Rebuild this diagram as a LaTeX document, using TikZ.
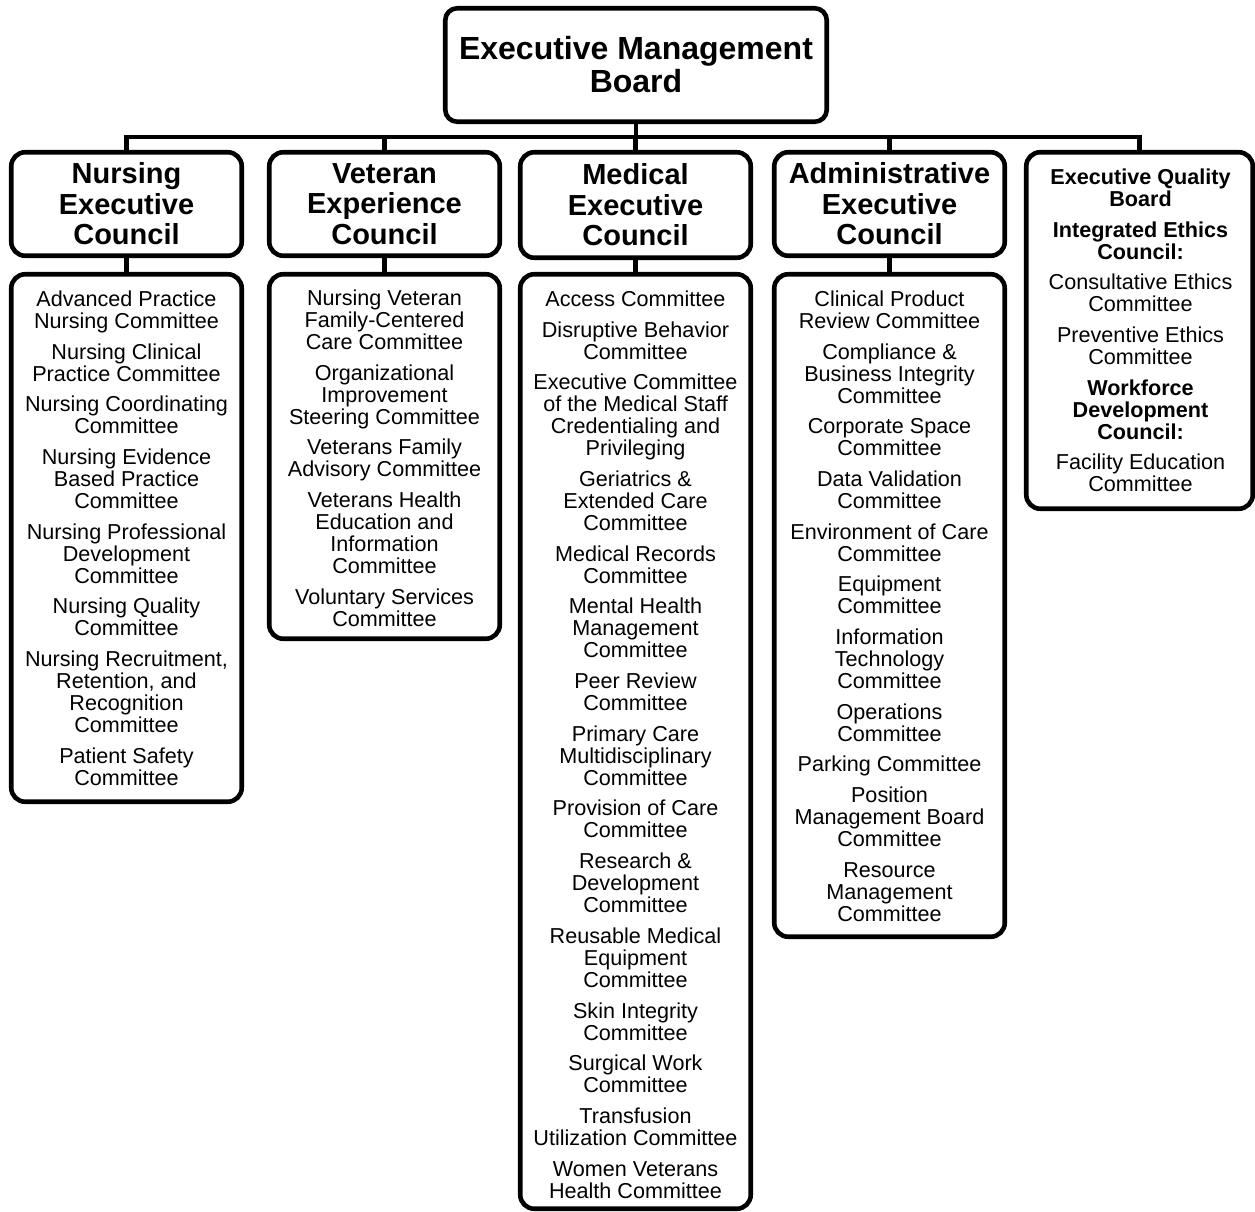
\documentclass[tikz,border=0pt]{standalone}
\usepackage{fontspec}
\setmainfont{Liberation Sans}
\begin{document}
\begin{tikzpicture}[x=1pt,y=1pt,
  box/.style={draw, line width=4.6pt, rounded corners=14pt, inner sep=0pt},
  ttl/.style={box, font=\fontsize{29}{30.5}\selectfont\bfseries, align=center},
  lst/.style={font=\fontsize{21.6}{22}\selectfont, align=center, anchor=north, inner sep=0pt},
  conn/.style={line width=4.6pt}]
\useasboundingbox (0,0) rectangle (1255,-1212);

% top
\node[box, rounded corners=12pt, minimum width=381.5pt, minimum height=113.5pt,
  font=\fontsize{32}{33}\selectfont\bfseries, align=center] (emb) at (636,-65)
  {Executive Management\\Board};

% title boxes
\node[ttl, minimum width=230.5pt, minimum height=103.5pt] (nec) at (126.5,-204) {Nursing\\Executive\\Council};
\node[ttl, minimum width=230.5pt, minimum height=103.5pt] (vec) at (384.5,-204) {Veteran\\Experience\\Council};
\node[ttl, minimum width=230.5pt, minimum height=105.5pt] (mec) at (635.5,-205) {Medical\\Executive\\Council};
\node[ttl, minimum width=230.5pt, minimum height=103.5pt] (aec) at (889.5,-204) {Administrative\\Executive\\Council};
\node[box, minimum width=226.5pt, minimum height=356.5pt] (eqb) at (1139.5,-330.5) {};

% list boxes
\node[box, minimum width=230.5pt, minimum height=527.5pt] (nel) at (126.5,-538) {};
\node[box, minimum width=230.5pt, minimum height=364.5pt] (vel) at (384.5,-456.5) {};
\node[box, minimum width=230.5pt, minimum height=934.5pt] (mel) at (635.5,-741.5) {};
\node[box, minimum width=230.5pt, minimum height=662.5pt] (ael) at (889.5,-605.5) {};

% connectors
\coordinate (bus) at (0,-137);
\draw[conn] (emb.south) -- (emb.south |- bus);
\draw[conn] (nec.north) -- (nec.north |- bus) -- (eqb.north |- bus) -- (eqb.north);
\draw[conn] (vec.north) -- (vec.north |- bus);
\draw[conn] (mec.north) -- (mec.north |- bus);
\draw[conn] (aec.north) -- (aec.north |- bus);
\draw[conn] (nec.south) -- (nel.north);
\draw[conn] (vec.south) -- (vel.north);
\draw[conn] (mec.south) -- (mel.north);
\draw[conn] (aec.south) -- (ael.north);

% texts
\node[lst] (eqbt) at (1140.5,-168.5) {\textbf{Executive Quality}\\\textbf{Board}\\[8.7pt]
\textbf{Integrated Ethics}\\\textbf{Council:}\\[8.7pt]
Consultative Ethics\\Committee\\[8.7pt]
Preventive Ethics\\Committee\\[8.7pt]
\textbf{Workforce}\\\textbf{Development}\\\textbf{Council:}\\[8.7pt]
Facility Education\\Committee};

\node[lst] (nelt) at (126.5,-290.5) {Advanced Practice\\Nursing Committee\\[8.7pt]
Nursing Clinical\\Practice Committee\\[8.7pt]
Nursing Coordinating\\Committee\\[8.7pt]
Nursing Evidence\\Based Practice\\Committee\\[8.7pt]
Nursing Professional\\Development\\Committee\\[8.7pt]
Nursing Quality\\Committee\\[8.7pt]
Nursing Recruitment,\\Retention, and\\Recognition\\Committee\\[8.7pt]
Patient Safety\\Committee};

\node[lst] (velt) at (384.5,-289.5) {Nursing Veteran\\Family-Centered\\Care Committee\\[8.7pt]
Organizational\\Improvement\\Steering Committee\\[8.7pt]
Veterans Family\\Advisory Committee\\[8.7pt]
Veterans Health\\Education and\\Information\\Committee\\[8.7pt]
Voluntary Services\\Committee};

\node[lst] (melt) at (635.5,-290.5) {Access Committee\\[8.7pt]
Disruptive Behavior\\Committee\\[8.7pt]
Executive Committee\\of the Medical Staff\\Credentialing and\\Privileging\\[8.7pt]
Geriatrics \&\\Extended Care\\Committee\\[8.7pt]
Medical Records\\Committee\\[8.7pt]
Mental Health\\Management\\Committee\\[8.7pt]
Peer Review\\Committee\\[8.7pt]
Primary Care\\Multidisciplinary\\Committee\\[8.7pt]
Provision of Care\\Committee\\[8.7pt]
Research \&\\Development\\Committee\\[8.7pt]
Reusable Medical\\Equipment\\Committee\\[8.7pt]
Skin Integrity\\Committee\\[8.7pt]
Surgical Work\\Committee\\[8.7pt]
Transfusion\\Utilization Committee\\[8.7pt]
Women Veterans\\Health Committee};

\node[lst] (aelt) at (889.5,-290.5) {Clinical Product\\Review Committee\\[8.7pt]
Compliance \&\\Business Integrity\\Committee\\[8.7pt]
Corporate Space\\Committee\\[8.7pt]
Data Validation\\Committee\\[8.7pt]
Environment of Care\\Committee\\[8.7pt]
Equipment\\Committee\\[8.7pt]
Information\\Technology\\Committee\\[8.7pt]
Operations\\Committee\\[8.7pt]
Parking Committee\\[8.7pt]
Position\\Management Board\\Committee\\[8.7pt]
Resource\\Management\\Committee};
\end{tikzpicture}
\end{document}
